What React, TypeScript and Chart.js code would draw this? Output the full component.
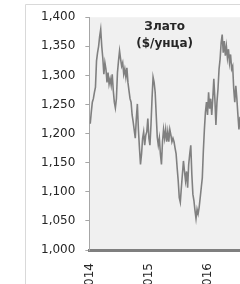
import { useEffect, useRef } from "react";
import { Chart, registerables } from "chart.js";

Chart.register(...registerables);

const titleLines = ["Злато", "($/унца)"];
const startYear = 2014;
const pointsPerYear = 56;
const yearTicks = [2014, 2015, 2016];
const yMin = 1000;
const yMax = 1400;
const yStep = 50;

const goldPrice = [
  1217, 1237, 1254, 1260, 1271, 1280, 1325, 1339, 1350, 1367,
  1379, 1350, 1330, 1302, 1322, 1311, 1288, 1305, 1285, 1294,
  1283, 1302, 1274, 1254, 1244, 1260, 1305, 1325, 1342, 1328,
  1316, 1322, 1302, 1311, 1297, 1313, 1288, 1274, 1260, 1254,
  1232, 1220, 1206, 1192, 1226, 1251, 1207, 1175, 1147, 1165,
  1192, 1203, 1180, 1197, 1203, 1226, 1192, 1180, 1215, 1260,
  1297, 1288, 1271, 1232, 1194, 1180, 1192, 1165, 1147, 1186,
  1207, 1192, 1207, 1186, 1203, 1186, 1207, 1198, 1186, 1192,
  1186, 1175, 1165, 1141, 1119, 1090, 1082, 1107, 1130, 1153,
  1135, 1119, 1135, 1107, 1147, 1165, 1180, 1130, 1096, 1085,
  1068, 1054, 1070, 1062, 1073, 1090, 1107, 1124, 1170, 1207,
  1237, 1254, 1232, 1271, 1243, 1260, 1232, 1260, 1294, 1260,
  1215, 1254, 1277, 1311, 1328, 1356, 1370, 1339, 1359, 1334,
  1350, 1330, 1345, 1322, 1336, 1311, 1316, 1277, 1254, 1282,
  1260, 1232, 1207, 1229,
];

const FONT = "'DejaVu Sans', Verdana, sans-serif";

export default function App() {
  const ref = useRef<HTMLCanvasElement>(null);

  useEffect(() => {
    if (!ref.current) return;
    const points = goldPrice.map((v, i) => ({ x: startYear + i / pointsPerYear, y: v }));

    const decor = {
      id: "decor",
      beforeDraw(chart: any) {
        const { ctx, chartArea: a } = chart;
        ctx.save();
        ctx.fillStyle = "#f0f0f0";
        ctx.fillRect(a.left, a.top, a.right - a.left, a.bottom - a.top);
        ctx.strokeStyle = "#d9d9d9";
        ctx.lineWidth = 1;
        ctx.beginPath();
        ctx.moveTo(25.5, chart.height);
        ctx.lineTo(25.5, 4.5);
        ctx.lineTo(chart.width, 4.5);
        ctx.stroke();
        ctx.restore();
      },
      afterDraw(chart: any) {
        const { ctx, chartArea: a } = chart;
        ctx.save();
        ctx.fillStyle = "#262626";
        ctx.font = `bold 12px ${FONT}`;
        ctx.textAlign = "center";
        ctx.textBaseline = "middle";
        const cx = (a.left + a.right) / 2;
        titleLines.forEach((t, i) => ctx.fillText(t, cx, 27 + i * 17));
        ctx.restore();
      },
    };

    const chart = new Chart(ref.current, {
      type: "line",
      data: {
        datasets: [
          {
            data: points,
            borderColor: "#808080",
            borderWidth: 1.6,
            pointRadius: 0,
            tension: 0,
          },
        ],
      },
      options: {
        animation: false,
        responsive: false,
        maintainAspectRatio: false,
        layout: { padding: { left: 31, top: 14, right: 0, bottom: 0 } },
        plugins: { legend: { display: false }, tooltip: { enabled: false } },
        scales: {
          x: {
            type: "linear",
            min: 2013.985,
            max: startYear + (goldPrice.length - 1) / pointsPerYear,
            afterBuildTicks: (s: any) => {
              s.ticks = yearTicks.map((v) => ({ value: v }));
            },
            afterFit: (s: any) => {
              s.height = 34;
            },
            grid: { display: false, drawTicks: false },
            border: { display: true, color: "#7f7f7f", width: 3 },
            ticks: {
              autoSkip: false,
              maxRotation: 90,
              minRotation: 90,
              padding: 13,
              color: "#262626",
              font: { family: FONT, size: 12 },
              callback: (v: any) => String(v),
            },
          },
          y: {
            min: yMin,
            max: yMax,
            ticks: {
              stepSize: yStep,
              padding: 10,
              color: "#262626",
              font: { family: FONT, size: 12 },
              callback: (v: any) => Number(v).toLocaleString("en-US"),
            },
            grid: { drawOnChartArea: false, drawTicks: true, tickLength: 4, color: "#a6a6a6" },
            border: { display: true, color: "#a6a6a6", width: 1 },
          },
        },
      },
      plugins: [decor],
    });
    return () => chart.destroy();
  }, []);

  return (
    <canvas
      ref={ref}
      width={240}
      height={284}
      style={{ position: "fixed", left: 0, top: 0, width: 240, height: 284, display: "block" }}
    />
  );
}
